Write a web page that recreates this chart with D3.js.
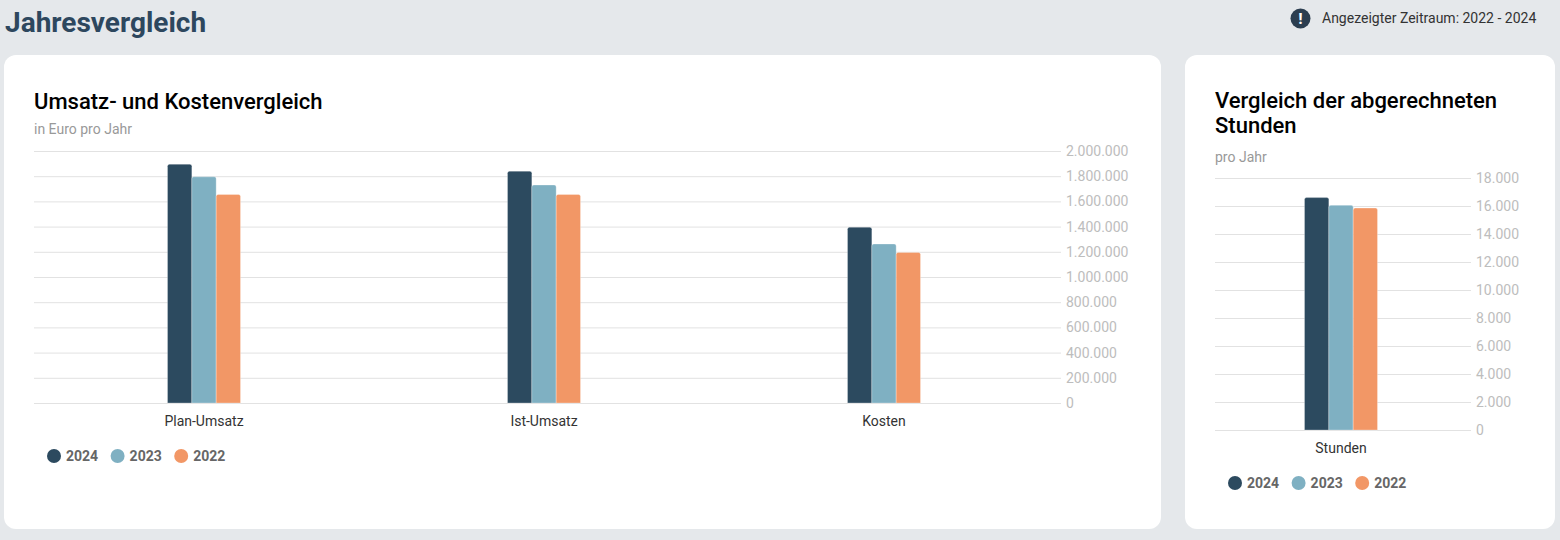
<!DOCTYPE html>
<html>
<head>
<meta charset="utf-8">
<script src="https://cdn.jsdelivr.net/npm/d3@7"></script>
<style>
  body { margin: 0; background: #e5e8eb; font-family: Roboto, "Noto Sans", sans-serif; }
  svg text { font-family: Roboto, "Noto Sans", sans-serif; }
</style>
</head>
<body>
<svg id="chart" width="1560" height="540"></svg>
<script>
// Data
var years = ["2024", "2023", "2022"];
var colors = ["#2c4a5f", "#7fb0c2", "#f29766"];

var euroCategories = ["Plan-Umsatz", "Ist-Umsatz", "Kosten"];
var euro2024 = [1895000, 1840000, 1395000];
var euro2023 = [1795000, 1730000, 1262000];
var euro2022 = [1655000, 1655000, 1195000];

var hourCategories = ["Stunden"];
var hours2024 = [16600];
var hours2023 = [16050];
var hours2022 = [15850];

var de = d3.formatLocale({ decimal: ",", thousands: ".", grouping: [3], currency: ["", " €"] });
var fmt = de.format(",d");

var svg = d3.select("#chart");

// Page header
svg.append("text")
   .attr("x", 5).attr("y", 32)
   .attr("font-size", 28).attr("font-weight", 700)
   .attr("fill", "#2d475e")
   .text("Jahresvergleich");

svg.append("circle").attr("cx", 1300.5).attr("cy", 18.5).attr("r", 10).attr("fill", "#2c3e50");
svg.append("text")
   .attr("x", 1300.5).attr("y", 23.5)
   .attr("text-anchor", "middle").attr("font-size", 14).attr("font-weight", 900)
   .attr("fill", "#fff").text("!");
svg.append("text")
   .attr("x", 1322).attr("y", 23)
   .attr("font-size", 14).attr("fill", "#333")
   .text("Angezeigter Zeitraum: 2022 - 2024");

// Cards
svg.append("rect").attr("x", 4).attr("y", 55).attr("width", 1157).attr("height", 474).attr("rx", 12).attr("fill", "#fff");
svg.append("rect").attr("x", 1185).attr("y", 55).attr("width", 370).attr("height", 474).attr("rx", 12).attr("fill", "#fff");

// Bar with rounded top corners
function barPath(x, y, w, h, r) {
    r = Math.min(r, h);
    return "M" + x + "," + (y + h) +
           "V" + (y + r) +
           "Q" + x + "," + y + " " + (x + r) + "," + y +
           "H" + (x + w - r) +
           "Q" + (x + w) + "," + y + " " + (x + w) + "," + (y + r) +
           "V" + (y + h) + "Z";
}

function drawChart(opt) {
    var g = svg.append("g");

    // Title + subtitle
    var title = g.append("text")
       .attr("x", opt.left).attr("y", opt.titleY)
       .attr("font-size", 22).attr("font-weight", 500).attr("fill", "#000");
    opt.title.forEach(function(line, i) {
        title.append("tspan").attr("x", opt.left).attr("dy", i === 0 ? 0 : 25).text(line);
    });
    g.append("text")
       .attr("x", opt.left).attr("y", opt.subY)
       .attr("font-size", 14).attr("fill", "#999")
       .text(opt.subtitle);

    var y = d3.scaleLinear().domain(opt.domain).range([opt.bottom, opt.top]);
    var x0 = d3.scaleBand().domain(opt.categories).range([opt.left, opt.bandRight]).padding(0);
    var groupWidth = 73;
    var x1 = d3.scaleBand().domain(years).range([0, groupWidth]).padding(0);

    // Gridlines + value labels on the right
    var yAxis = d3.axisRight(y)
        .ticks(10)
        .tickSize(-(opt.gridRight - opt.left))
        .tickPadding(5)
        .tickFormat(fmt);
    var ya = g.append("g")
       .attr("transform", "translate(" + opt.gridRight + ",0)")
       .call(yAxis);
    ya.select(".domain").remove();
    ya.selectAll(".tick line").attr("stroke", "#e2e2e2");
    ya.selectAll(".tick text").attr("fill", "#bdbdbd").attr("font-size", 14);

    // Bars
    var rows = opt.categories.map(function(c, i) {
        return { cat: c, vals: [opt.series[0][i], opt.series[1][i], opt.series[2][i]] };
    });
    var grp = g.selectAll(".grp").data(rows).enter().append("g")
       .attr("transform", function(d) {
           return "translate(" + (x0(d.cat) + x0.bandwidth() / 2 - groupWidth / 2) + ",0)";
       });
    grp.selectAll("path")
       .data(function(d) { return d.vals.map(function(v, j) { return { year: years[j], v: v, j: j }; }); })
       .enter().append("path")
       .attr("d", function(d) {
           return barPath(x1(d.year), y(d.v), x1.bandwidth(), y(0) - y(d.v), 2);
       })
       .attr("fill", function(d) { return colors[d.j]; })
       .attr("stroke", "#fff").attr("stroke-opacity", 0.35).attr("stroke-width", 0.8);

    // Category axis
    var xa = g.append("g")
       .attr("transform", "translate(0," + opt.bottom + ")")
       .call(d3.axisBottom(x0).tickSize(0).tickPadding(12.8));
    xa.select(".domain").remove();
    xa.selectAll(".tick text").attr("fill", "#333").attr("font-size", 14);

    // Legend
    var lg = g.selectAll(".lg").data(years).enter().append("g")
       .attr("transform", function(d, i) { return "translate(" + (opt.legendX + i * 63.6) + "," + opt.legendY + ")"; });
    lg.append("circle").attr("r", 7).attr("fill", function(d, i) { return colors[i]; });
    lg.append("text")
       .attr("x", 12).attr("y", 5)
       .attr("font-size", 14).attr("font-weight", 700).attr("fill", "#666")
       .text(function(d) { return d; });
}

drawChart({
    title: ["Umsatz- und Kostenvergleich"],
    subtitle: "in Euro pro Jahr",
    titleY: 109, subY: 134,
    left: 34, bandRight: 1054, gridRight: 1061,
    top: 151, bottom: 403,
    domain: [0, 2000000],
    categories: euroCategories,
    series: [euro2024, euro2023, euro2022],
    legendX: 54, legendY: 456
});

drawChart({
    title: ["Vergleich der abgerechneten", "Stunden"],
    subtitle: "pro Jahr",
    titleY: 108, subY: 162,
    left: 1215, bandRight: 1467, gridRight: 1471,
    top: 178, bottom: 430,
    domain: [0, 18000],
    categories: hourCategories,
    series: [hours2024, hours2023, hours2022],
    legendX: 1235, legendY: 483
});
</script>
</body>
</html>
